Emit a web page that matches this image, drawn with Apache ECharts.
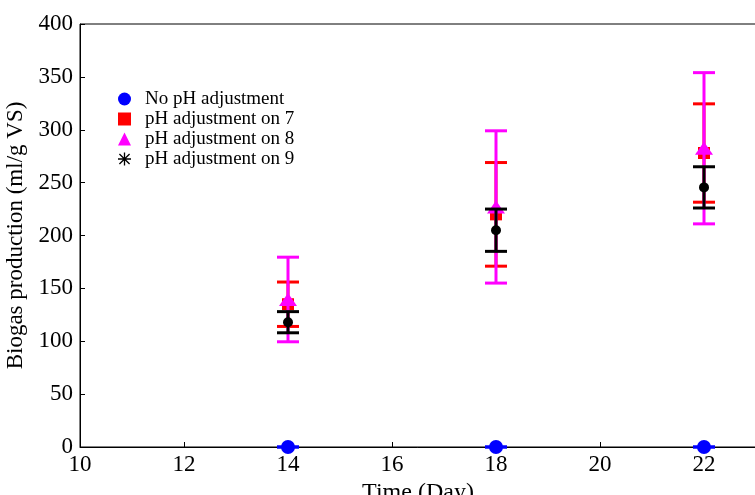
<!DOCTYPE html>
<html><head><meta charset="utf-8">
<script src="https://cdn.jsdelivr.net/npm/echarts@6/dist/echarts.min.js"></script>
<style>html,body{margin:0;padding:0;background:#fff}#c{width:755px;height:495px}</style>
</head><body><div id="c"></div>
<script>
const days = [14, 18, 22];
const noAdj = [0, 0, 0];
const noAdjErr = [0, 0, 0];
const ph7 = [135, 220, 278];
const ph7Err = [21, 49, 46.5];
const ph8 = [139.5, 227, 282.5];
const ph8Err = [40, 72, 71.5];
const ph9 = [118, 205, 245.5];
const ph9Err = [10, 20, 19.5];
const names = ['No pH adjustment', 'pH adjustment on 7', 'pH adjustment on 8', 'pH adjustment on 9'];

const FONT = 'Liberation Serif';
const asterisk = 'path://M9 0L11 0L11 20L9 20Z M0 9L20 9L20 11L0 11Z M1.5 2.9L2.9 1.5L18.5 17.1L17.1 18.5Z M17.1 1.5L18.5 2.9L2.9 18.5L1.5 17.1Z';

function errSeries(vals, errs, color, z) {
  return {
    type: 'custom', name: 'err' + z, z: z, silent: true,
    data: days.map((d, i) => [d, vals[i] - errs[i], vals[i] + errs[i]]),
    renderItem: function (params, api) {
      const x = api.value(0), lo = api.value(1), hi = api.value(2);
      const p1 = api.coord([x, hi]), p2 = api.coord([x, lo]);
      const hw = 11;
      const st = { stroke: color, lineWidth: 3 };
      return { type: 'group', children: [
        { type: 'line', shape: { x1: p1[0], y1: p1[1], x2: p2[0], y2: p2[1] }, style: st },
        { type: 'line', shape: { x1: p1[0] - hw, y1: p1[1], x2: p1[0] + hw, y2: p1[1] }, style: st },
        { type: 'line', shape: { x1: p2[0] - hw, y1: p2[1], x2: p2[0] + hw, y2: p2[1] }, style: st }
      ]};
    }
  };
}
function ptSeries(name, vals, color, symbol, size, z) {
  return {
    type: 'scatter', name: name, z: z, symbol: symbol, symbolSize: size,
    itemStyle: { color: color, opacity: 1 },
    data: days.map((d, i) => [d, vals[i]])
  };
}

const chart = echarts.init(document.getElementById('c'));
chart.setOption({
  animation: false,
  grid: { left: 80, top: 24, right: -1, bottom: 48, show: true, borderColor: '#000', borderWidth: 1,
          containLabel: false, outerBoundsMode: 'none' },
  legend: {
    orient: 'vertical', left: 113, top: 84, itemGap: 0, itemWidth: 13, itemHeight: 13,
    textStyle: { fontFamily: FONT, fontSize: 19, color: '#000', lineHeight: 20, padding: [0, 0, 0, 9] },
    data: [
      { name: names[0], icon: 'circle', itemStyle: { color: '#0000ff' } },
      { name: names[1], icon: 'rect', itemStyle: { color: '#ff0000' } },
      { name: names[2], icon: 'triangle', itemStyle: { color: '#ff00ff' } },
      { name: names[3], icon: asterisk, itemStyle: { color: '#000' } }
    ]
  },
  xAxis: {
    type: 'value', min: 10, max: 23, interval: 2,
    name: 'Time (Day)', nameLocation: 'middle', nameGap: 24,
    nameTextStyle: { fontFamily: FONT, fontSize: 24, color: '#000' },
    axisLine: { lineStyle: { color: '#000', width: 1 } },
    axisTick: { inside: true, length: 5, lineStyle: { color: '#000' } },
    axisLabel: { fontFamily: FONT, fontSize: 23, color: '#000', margin: 6, showMaxLabel: false },
    splitLine: { show: false }
  },
  yAxis: {
    type: 'value', min: 0, max: 400, interval: 50,
    name: 'Biogas production (ml/g VS)', nameLocation: 'middle', nameGap: 46,
    nameTextStyle: { fontFamily: FONT, fontSize: 23, color: '#000' },
    axisLine: { show: true, lineStyle: { color: '#000', width: 1 } },
    axisTick: { show: true, inside: true, length: 5, lineStyle: { color: '#000' } },
    axisLabel: { fontFamily: FONT, fontSize: 23, color: '#000', margin: 7 },
    splitLine: { show: false }
  },
  series: [
    errSeries(noAdj, noAdjErr, '#0000ff', 2),
    ptSeries(names[0], noAdj, '#0000ff', 'circle', 14, 3),
    errSeries(ph7, ph7Err, '#ff0000', 4),
    ptSeries(names[1], ph7, '#ff0000', 'rect', 12, 5),
    errSeries(ph8, ph8Err, '#ff00ff', 6),
    ptSeries(names[2], ph8, '#ff00ff', 'triangle', [18, 13], 7),
    errSeries(ph9, ph9Err, '#000000', 8),
    ptSeries(names[3], ph9, '#000000', 'circle', 10, 9)
  ]
});
</script>
</body></html>
